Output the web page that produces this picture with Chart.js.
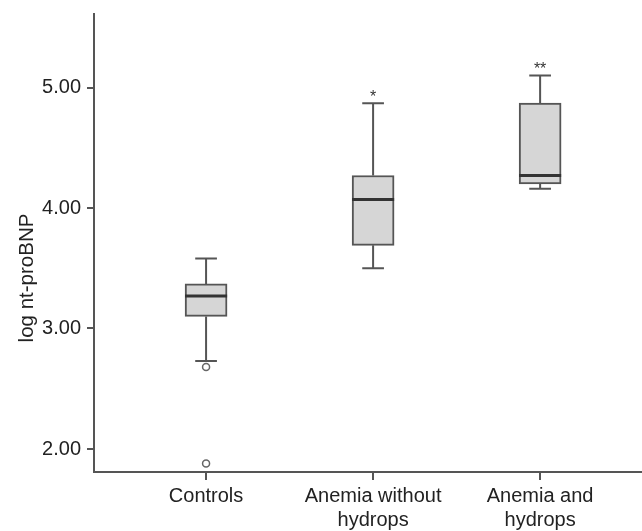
<!DOCTYPE html>
<html><head><meta charset="utf-8">
<script src="https://cdn.jsdelivr.net/npm/chart.js@4.4.1/dist/chart.umd.min.js"></script>
<style>html,body{margin:0;padding:0;background:#fff}</style>
</head><body>
<canvas id="c" width="642" height="531"></canvas>
<script>
// ---- data ----
const categories = [['Controls'], ['Anemia without', 'hydrops'], ['Anemia and', 'hydrops']];
const positions = [1, 2, 3];
const whiskerLow = [2.73, 3.50, 4.16];
const q1 = [3.10, 3.69, 4.20];
const median = [3.27, 4.07, 4.27];
const q3 = [3.37, 4.27, 4.87];
const whiskerHigh = [3.58, 4.87, 5.10];
const outliers = [[2.68, 1.88], [], []];
const significance = ['', '*', '**'];
const yTickValues = [2, 3, 4, 5];
const yTitle = 'log nt-proBNP';

// ---- build datasets ----
const BOX_HALF = 0.126, CAP_HALF = 0.065;
const gap = p => ({x: p, y: null});
const whiskerData = [], capData = [], medianData = [], outlierData = [];
positions.forEach((p, i) => {
  whiskerData.push({x: p, y: q3[i]}, {x: p, y: whiskerHigh[i]}, gap(p),
                   {x: p, y: q1[i]}, {x: p, y: whiskerLow[i]}, gap(p));
  capData.push({x: p - CAP_HALF, y: whiskerHigh[i]}, {x: p + CAP_HALF, y: whiskerHigh[i]}, gap(p),
               {x: p - CAP_HALF, y: whiskerLow[i]}, {x: p + CAP_HALF, y: whiskerLow[i]}, gap(p));
  medianData.push({x: p - BOX_HALF, y: median[i]}, {x: p + BOX_HALF, y: median[i]}, gap(p));
  outliers[i].forEach(v => outlierData.push({x: p, y: v}));
});

const FONT = {family: '"Liberation Sans", Arial, sans-serif', size: 20};
const AXIS = '#555';
const lineDs = (data, color, width, order) => ({
  type: 'line', data, borderColor: color, borderWidth: width, pointRadius: 0,
  spanGaps: false, fill: false, tension: 0, order, borderCapStyle: 'butt'
});

const annot = {
  id: 'annot',
  afterDatasetsDraw(chart) {
    const {ctx, scales: {x, y}} = chart;
    ctx.save();
    ctx.fillStyle = '#333';
    ctx.font = '16px "Liberation Sans", Arial, sans-serif';
    ctx.textAlign = 'center';
    ctx.textBaseline = 'alphabetic';
    positions.forEach((p, i) => {
      if (significance[i]) ctx.fillText(significance[i], x.getPixelForValue(p), y.getPixelForValue(whiskerHigh[i]) - 1);
    });
    ctx.restore();
  },
  afterDraw(chart) {
    const {ctx} = chart;
    ctx.save();
    ctx.fillStyle = '#222';
    ctx.font = '20.5px "Liberation Sans", Arial, sans-serif';
    ctx.textAlign = 'center';
    ctx.textBaseline = 'middle';
    ctx.translate(27, 278);
    ctx.rotate(-Math.PI / 2);
    ctx.fillText(yTitle, 0, 0);
    ctx.restore();
  }
};

new Chart(document.getElementById('c'), {
  type: 'bar',
  data: {
    datasets: [
      {type: 'bar', data: positions.map((p, i) => ({x: p, y: [q1[i], q3[i]]})),
       backgroundColor: '#d6d6d6', borderColor: '#555', borderWidth: 2,
       borderSkipped: false, barThickness: 42, order: 3},
      lineDs(whiskerData, '#555', 2, 4),
      lineDs(capData, '#555', 2, 4),
      lineDs(medianData, '#333', 3, 1),
      {type: 'scatter', data: outlierData, pointStyle: 'circle', pointRadius: 3.5,
       pointBorderWidth: 1.5, pointBorderColor: '#666', pointBackgroundColor: '#fff', order: 0}
    ]
  },
  options: {
    responsive: false,
    animation: false,
    layout: {autoPadding: false, padding: {top: 14, right: 0, bottom: 0, left: 0}},
    plugins: {legend: {display: false}, tooltip: {enabled: false}},
    scales: {
      x: {
        type: 'linear', position: 'bottom', min: 0.329, max: 3.61, offset: false,
        afterBuildTicks: s => { s.ticks = positions.map(v => ({value: v})); },
        afterFit: s => { s.height = 59; s.paddingLeft = 0; s.paddingRight = 0; },
        ticks: {callback: v => categories[positions.indexOf(v)], maxRotation: 0, autoSkip: false,
                padding: 4, font: FONT, color: '#222'},
        grid: {offset: false, drawOnChartArea: false, drawTicks: true, tickLength: 8, color: AXIS, lineWidth: 2},
        border: {display: true, color: AXIS, width: 2}
      },
      y: {
        type: 'linear', min: 1.809, max: 5.61,
        afterBuildTicks: s => { s.ticks = yTickValues.map(v => ({value: v})); },
        afterFit: s => { s.width = 94; s.paddingTop = 0; s.paddingBottom = 0; },
        ticks: {callback: v => Number(v).toFixed(2), padding: 6, font: FONT, color: '#222'},
        grid: {drawOnChartArea: false, drawTicks: true, tickLength: 7, color: AXIS, lineWidth: 2},
        border: {display: true, color: AXIS, width: 2}
      }
    }
  },
  plugins: [annot]
});
</script>
</body></html>
